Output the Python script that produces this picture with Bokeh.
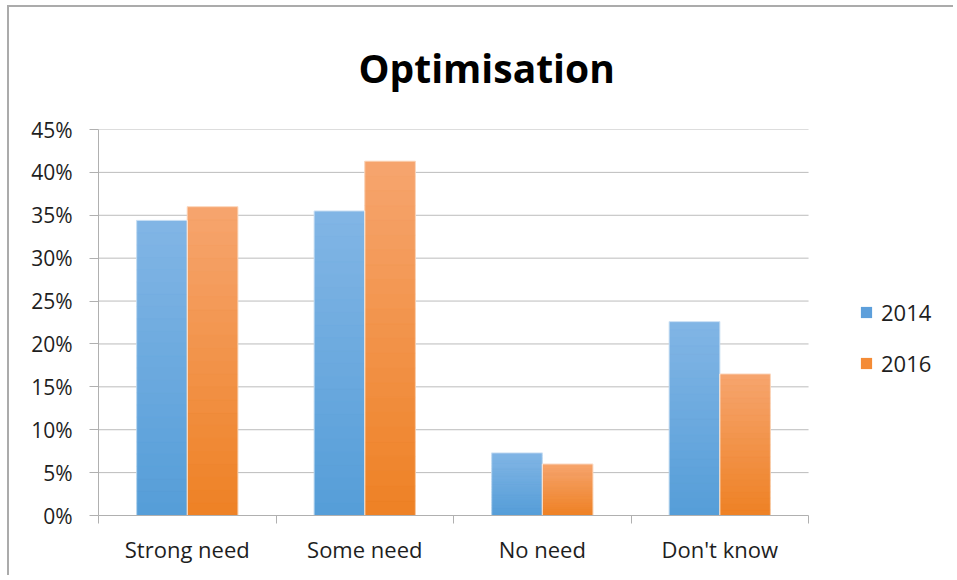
from bokeh.plotting import figure
from bokeh.models import (ColumnDataSource, FixedTicker, NumeralTickFormatter, Legend,
                          LegendItem, Range1d, Title)
from bokeh.transform import dodge
from bokeh.embed import file_html
from bokeh.resources import INLINE

categories = ["Strong need", "Some need", "No need", "Don't know"]
years = ["2014", "2016"]
values_2014 = [0.344, 0.355, 0.073, 0.226]
values_2016 = [0.360, 0.413, 0.060, 0.165]
y_ticks = [0.0, 0.05, 0.10, 0.15, 0.20, 0.25, 0.30, 0.35, 0.40, 0.45]

# styles
legend_2014 = "#5d9fdb"
legend_2016 = "#f48b36"
grad_2014 = ("#559dd8", "#82b6e5")   # bottom, top
grad_2016 = ("#ee8124", "#f6a56f")
grid_color = "#bcbcbc"
axis_color = "#b0b0b0"
text_color = "#1e1e1e"

# page geometry (pixels)
canvas_left, canvas_top = 9, 7
W, H = 946, 570
frame_left, frame_top, axis_right, frame_bottom = 97.7, 128, 808, 515

n = len(categories)
x_end = n * (canvas_left + W - frame_left) / (axis_right - frame_left)

pos = [i + 0.5 for i in range(n)]
bounds = [float(i) for i in range(n + 1)]
source = ColumnDataSource(dict(pos=pos, cat=categories, v2014=values_2014, v2016=values_2016))


def hex2rgb(h):
    h = h.lstrip("#")
    return [int(h[i:i + 2], 16) for i in (0, 2, 4)]


def mix(c0, c1, t):
    a, b = hex2rgb(c0), hex2rgb(c1)
    return "#%02x%02x%02x" % tuple(round(a[j] + (b[j] - a[j]) * t) for j in range(3))


p = figure(width=W, height=H,
           x_range=Range1d(0, x_end), y_range=Range1d(0, y_ticks[-1]),
           output_backend="svg", toolbar_location=None,
           min_border_left=round(frame_left - canvas_left), min_border_right=0,
           min_border_top=frame_top - canvas_top,
           min_border_bottom=canvas_top + H - frame_bottom)
p.styles = {"margin-top": "%dpx" % canvas_top, "margin-left": "%dpx" % canvas_left,
            "width": "%dpx" % W, "height": "%dpx" % H, "overflow": "hidden",
            "box-shadow": "-2px -2px 0 0 #ababab"}
p.outline_line_color = None
p.background_fill_color = "white"
p.border_fill_color = "white"

p.title = Title(text="Optimisation", align="left", offset=260, vertical_align="top",
                standoff=67, text_font_size="39px", text_font_style="bold",
                text_font="Open Sans", text_color="black")

# grid lines spanning only the category area
p.segment(x0=0, x1=n, y0=y_ticks[1:], y1=y_ticks[1:], line_color=grid_color, line_width=1)

bw = 0.285
# flat bars (used for legend)
r1 = p.vbar(x=dodge("pos", -bw / 2, range=p.x_range), top="v2014", width=bw, source=source,
            fill_color=legend_2014, line_color=None)
r2 = p.vbar(x=dodge("pos", bw / 2, range=p.x_range), top="v2016", width=bw, source=source,
            fill_color=legend_2016, line_color=None)

# gradient slices on top of the bars
N = 24
gx, gb, gt, gc = [], [], [], []
for vals, off, grad in ((values_2014, -bw / 2, grad_2014), (values_2016, bw / 2, grad_2016)):
    for i, v in enumerate(vals):
        for k in range(N):
            gx.append(pos[i] + off)
            gb.append(v * k / N)
            gt.append(v * (k + 1) / N)
            gc.append(mix(grad[0], grad[1], (k + 0.5) / N))
gsrc = ColumnDataSource(dict(x=gx, bottom=gb, top=gt, color=gc))
p.vbar(x="x", bottom="bottom", top="top", width=bw, source=gsrc,
       fill_color="color", line_color="color", line_width=0.6)

# light edge around bars
p.vbar(x=dodge("pos", -bw / 2, range=p.x_range), top="v2014", width=bw, source=source,
       fill_alpha=0, line_color="white", line_alpha=0.55, line_width=1)
p.vbar(x=dodge("pos", bw / 2, range=p.x_range), top="v2016", width=bw, source=source,
       fill_alpha=0, line_color="white", line_alpha=0.55, line_width=1)

# x axis
xa = p.xaxis[0]
xa.bounds = (0, n)
xa.ticker = FixedTicker(ticks=pos, minor_ticks=bounds)
xa.major_label_overrides = {pp: c for pp, c in zip(pos, categories)}
xa.major_tick_line_color = None
xa.minor_tick_out = 8
xa.minor_tick_in = 0
xa.minor_tick_line_color = axis_color
xa.axis_line_color = axis_color
xa.major_label_standoff = 10
xa.major_label_text_font = "Open Sans"
xa.major_label_text_font_size = "22px"
xa.major_label_text_color = text_color

# y axis
ya = p.yaxis[0]
ya.ticker = FixedTicker(ticks=y_ticks)
ya.formatter = NumeralTickFormatter(format="0%")
ya.major_tick_out = 9
ya.major_tick_in = 0
ya.major_tick_line_color = axis_color
ya.minor_tick_line_color = None
ya.axis_line_color = axis_color
ya.major_label_standoff = 17
ya.major_label_text_font = "Open Sans"
ya.major_label_text_font_size = "21px"
ya.major_label_text_color = text_color

p.xgrid.visible = False
p.ygrid.visible = False

legend = Legend(items=[LegendItem(label=years[0], renderers=[r1]),
                       LegendItem(label=years[1], renderers=[r2])],
                location=(761, 137), padding=0, margin=0, border_line_color=None,
                background_fill_alpha=0, glyph_width=14, glyph_height=14,
                label_standoff=8, spacing=21, label_height=30,
                label_text_font="Open Sans", label_text_font_size="22px",
                label_text_color=text_color)
p.add_layout(legend)

open("out.html", "w").write(file_html(p, INLINE))
